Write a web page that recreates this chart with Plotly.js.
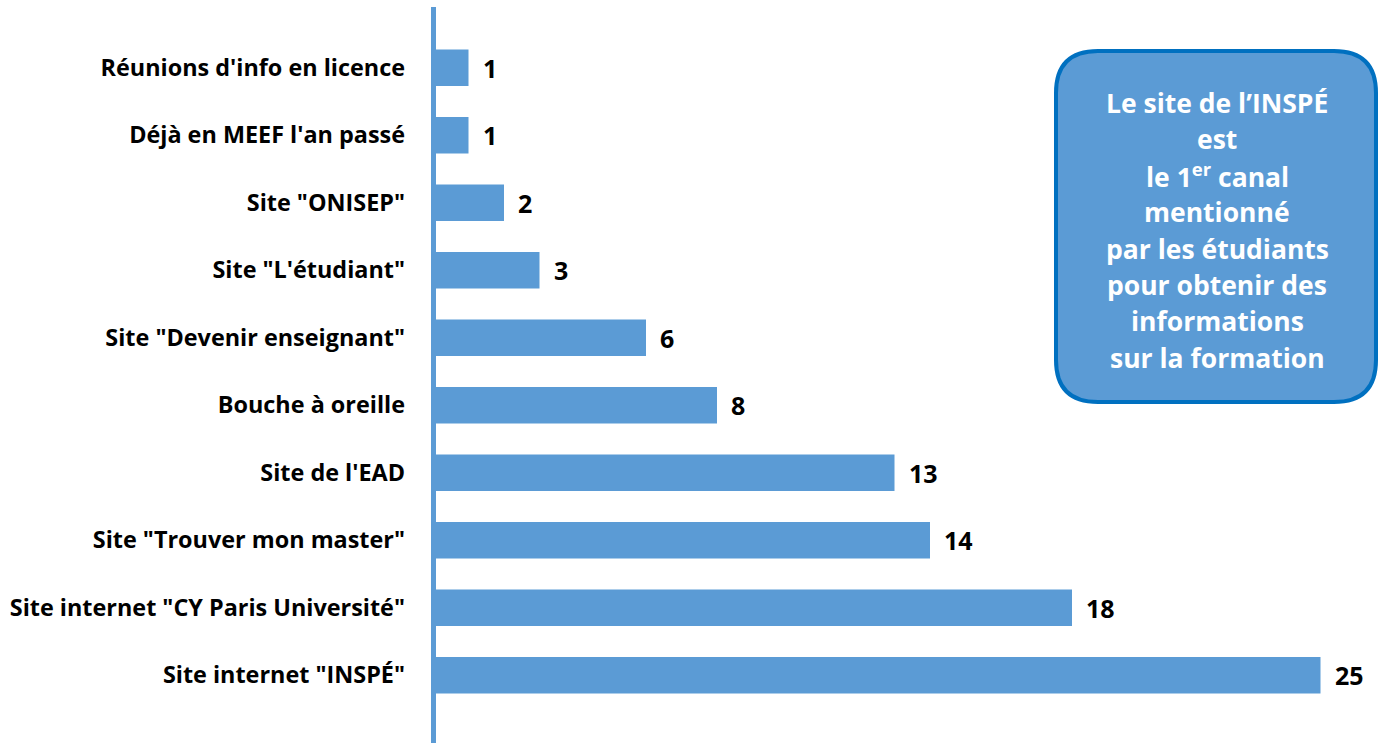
<!DOCTYPE html>
<html><head><meta charset="utf-8">
<script src="https://cdn.plot.ly/plotly-3.0.1.min.js"></script>
<style>html,body{margin:0;padding:0;background:#fff;}#chart{width:1380px;height:743px;}</style>
</head><body><div id="chart"></div>
<script>
const categories = [
  'Site internet "INSPÉ"',
  'Site internet "CY Paris Université"',
  'Site "Trouver mon master"',
  "Site de l'EAD",
  'Bouche à oreille',
  'Site "Devenir enseignant"',
  'Site "L\'étudiant"',
  'Site "ONISEP"',
  "Déjà en MEEF l'an passé",
  "Réunions d'info en licence"
];
const values = [25, 18, 14, 13, 8, 6, 3, 2, 1, 1];
const boxLines = ['Le site de l’INSPÉ', 'est', 'le 1<sup>er</sup> canal', 'mentionné', 'par les étudiants', 'pour obtenir des', 'informations', 'sur la formation'];

const W = 1380, H = 743;
const mL = 432, mR = 0, mT = 34, mB = 34;
const pw = W - mL - mR, ph = H - mT - mB;
const px = x => (x - mL) / pw;
const py = y => (H - mB - y) / ph;
const scale = 35.5, x0px = 433;
const xmin = (mL - x0px) / scale;

const barColor = '#5b9bd5';
const font = '"Open Sans", Lato, sans-serif';

const trace = {
  type: 'bar', orientation: 'h',
  y: categories, x: values,
  marker: {color: barColor, line: {width: 0}},
  hoverinfo: 'none'
};

const annotations = values.map((v, i) => ({
  x: v, y: categories[i], xref: 'x', yref: 'y',
  text: String(v), showarrow: false, xanchor: 'left', xshift: 12,
  font: {family: font, size: 25, color: '#000', weight: 'bold'}
}));

const lineY0 = 103, lineStep = 36.4;
boxLines.forEach((t, i) => {
  annotations.push({
    xref: 'paper', yref: 'paper', x: px(1217), y: py(lineY0 + i * lineStep),
    text: '<b>' + t + '</b>', showarrow: false, xanchor: 'center', yanchor: 'middle',
    font: {family: font, size: 26.5, color: '#ffffff'}
  });
});

function roundRect(x0, y0, x1, y1, r) {
  const P = (x, y) => px(x).toFixed(5) + ',' + py(y).toFixed(5);
  return 'M' + P(x0 + r, y0) + ' L' + P(x1 - r, y0) + ' Q' + P(x1, y0) + ' ' + P(x1, y0 + r) +
    ' L' + P(x1, y1 - r) + ' Q' + P(x1, y1) + ' ' + P(x1 - r, y1) +
    ' L' + P(x0 + r, y1) + ' Q' + P(x0, y1) + ' ' + P(x0, y1 - r) +
    ' L' + P(x0, y0 + r) + ' Q' + P(x0, y0) + ' ' + P(x0 + r, y0) + ' Z';
}

const shapes = [
  {type: 'line', xref: 'paper', yref: 'paper', x0: px(433.5), x1: px(433.5), y0: py(743), y1: py(7),
   line: {color: barColor, width: 5}, layer: 'above'},
  {type: 'path', xref: 'paper', yref: 'paper', path: roundRect(1056, 51, 1376, 402, 42),
   fillcolor: barColor, line: {color: '#0070c0', width: 4}, layer: 'above'}
];

const layout = {
  width: W, height: H,
  margin: {l: mL, r: mR, t: mT, b: mB, pad: 0},
  paper_bgcolor: '#fff', plot_bgcolor: '#fff',
  showlegend: false,
  bargap: 0.46,
  xaxis: {range: [xmin, xmin + pw / scale], showgrid: false, zeroline: false, showline: false,
          showticklabels: false, ticks: '', fixedrange: true},
  yaxis: {type: 'category', showgrid: false, zeroline: false, showline: false, ticks: '',
          ticklabelstandoff: 26,
          tickfont: {family: font, size: 23.4, color: '#000', weight: 'bold'}, fixedrange: true},
  annotations: annotations,
  shapes: shapes
};

Plotly.newPlot('chart', [trace], layout, {displayModeBar: false, staticPlot: true});
</script>
</body></html>
